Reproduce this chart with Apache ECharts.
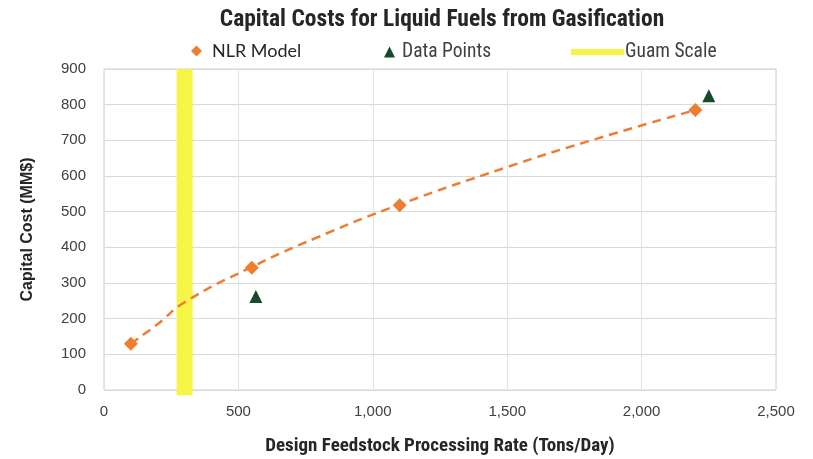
<!DOCTYPE html>
<html>
<head>
<meta charset="utf-8">
<script src="https://cdn.jsdelivr.net/npm/echarts@6/dist/echarts.min.js"></script>
<style>html,body{margin:0;padding:0;background:#fff}#c{width:813px;height:459px}</style>
</head>
<body>
<div id="c"></div>
<script>
// Data
const nlrModel = [[100, 130], [550, 343], [1100, 518], [2200, 785]];
const dataPoints = [[565, 262], [2250, 825]];
const trendLine = [[100, 130], [200, 185], [300, 246], [550, 345], [800, 430], [1100, 520], [1500, 625], [1800, 697], [2200, 785]];
const guamScale = [[300, -15], [300, 900]];
const xTicks = [0, 500, 1000, 1500, 2000, 2500];
const yTicks = [0, 100, 200, 300, 400, 500, 600, 700, 800, 900];

const chart = echarts.init(document.getElementById('c'));
const narrow = '"Liberation Sans Narrow", "Arial Narrow", "Roboto Condensed", sans-serif';
chart.setOption({
  animation: false,
  backgroundColor: '#fff',
  title: {
    text: 'Capital Costs for Liquid Fuels from Gasification',
    left: 437, top: 3, textAlign: 'center',
    textStyle: { fontFamily: narrow, fontWeight: 'bold', fontSize: 23.5, color: '#262626' }
  },
  legend: [
    { data: [{ name: 'NLR Model', icon: 'diamond' }], left: 186, top: 37, itemWidth: 11, itemHeight: 11, itemGap: 14,
      textStyle: { fontFamily: 'Lato, "Open Sans", sans-serif', fontSize: 18, color: '#262626', padding: [0, 0, 0, 5] } },
    { data: [{ name: 'Data Points', icon: 'triangle' }], left: 379, top: 37, itemWidth: 11, itemHeight: 11, itemGap: 8,
      textStyle: { fontFamily: narrow, fontSize: 19.5, color: '#404040', padding: [0, 0, 0, 2] } },
    { data: [{ name: 'Guam Scale', icon: 'rect' }], left: 566, top: 37, itemWidth: 53, itemHeight: 6, itemGap: 2,
      textStyle: { fontFamily: narrow, fontSize: 19.5, color: '#404040', padding: [0, 0, 0, -4] } }
  ],
  grid: { left: 104, right: 37, top: 69, bottom: 69, show: true, borderColor: '#d0d0d0', borderWidth: 1,
    outerBoundsMode: 'none', containLabel: false },
  xAxis: {
    type: 'value', min: xTicks[0], max: xTicks[xTicks.length - 1], interval: 500,
    name: 'Design Feedstock Processing Rate (Tons/Day)', nameLocation: 'middle', nameGap: 47,
    nameTextStyle: { fontFamily: narrow, fontWeight: 'bold', fontSize: 19, color: '#262626' },
    axisLine: { show: false }, axisTick: { show: false },
    axisLabel: { margin: 14, fontFamily: '"Liberation Sans", sans-serif', fontSize: 15, color: '#404040',
      formatter: v => v.toLocaleString('en-US') },
    splitLine: { show: true, lineStyle: { color: '#e3e3e3', width: 1 } }
  },
  yAxis: {
    type: 'value', min: yTicks[0], max: yTicks[yTicks.length - 1], interval: 100,
    name: 'Capital Cost (MM$)', nameLocation: 'middle', nameGap: 68,
    nameTextStyle: { fontFamily: '"Liberation Sans", sans-serif', fontWeight: 'bold', fontSize: 16, color: '#262626' },
    axisLine: { show: false }, axisTick: { show: false },
    axisLabel: { margin: 18, fontFamily: '"Liberation Sans", sans-serif', fontSize: 15, color: '#404040' },
    splitLine: { show: true, lineStyle: { color: '#d9d9d9', width: 1 } }
  },
  series: [
    { name: 'Guam Scale', type: 'line', data: guamScale, symbol: 'none', clip: false, z: 1,
      color: '#f6f545', lineStyle: { color: '#f6f545', width: 16, cap: 'butt' } },
    { name: 'Trend', type: 'line', data: trendLine, smooth: true, symbol: 'none', z: 2,
      lineStyle: { color: '#ed7d31', width: 2.5, type: [9, 6] } },
    { name: 'NLR Model', type: 'scatter', data: nlrModel, symbol: 'diamond', symbolSize: 14, z: 3,
      itemStyle: { color: '#ed7d31', opacity: 1 } },
    { name: 'Data Points', type: 'scatter', data: dataPoints, symbol: 'triangle', symbolSize: 13, z: 3,
      itemStyle: { color: '#164a2a', opacity: 1 } }
  ]
});
</script>
</body>
</html>
